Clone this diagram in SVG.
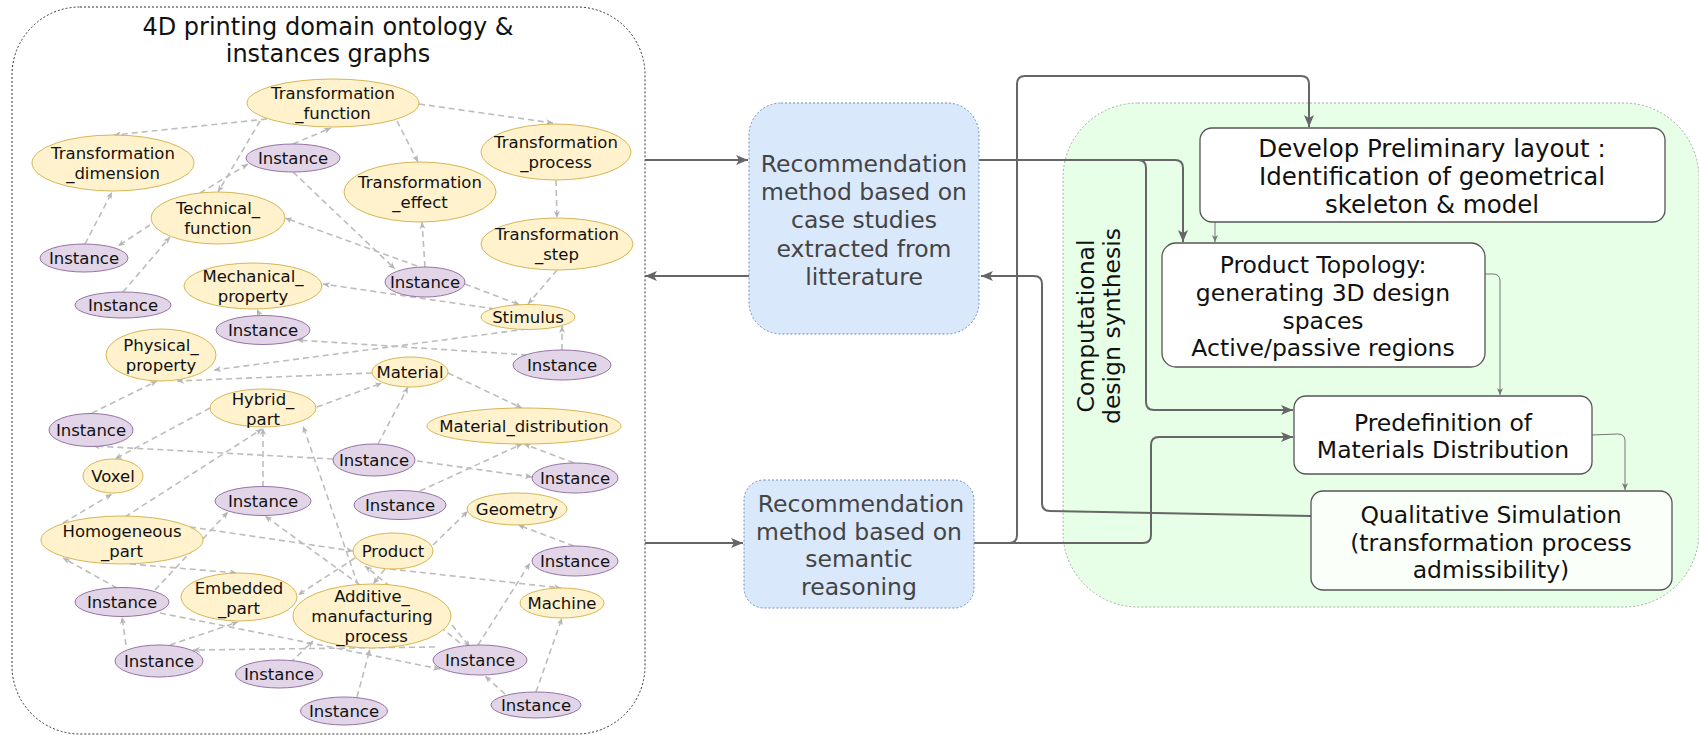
<svg xmlns="http://www.w3.org/2000/svg" width="1699" height="735" viewBox="0 0 1699 735">
<style>
.cont{fill:none;stroke:#333;stroke-width:1;stroke-dasharray:2 2}
.green{fill:#e6ffe6;stroke:#aaa;stroke-width:1;stroke-dasharray:2 2}
.blue{fill:#dae8fc;stroke:#6c8ebf;stroke-width:1;stroke-dasharray:2 2}
.box{fill:#fff;stroke:#555;stroke-width:1.3}
.cls{fill:#fff2cc;stroke:#d6b656;stroke-width:1}
.ins{fill:#e1d5e7;stroke:#9673a6;stroke-width:1}
.e{fill:none;stroke:#bdbdbd;stroke-width:1.6;stroke-dasharray:6 4;marker-end:url(#s)}
.c{fill:none;stroke:#666;stroke-width:2;marker-end:url(#a)}
.t{fill:none;stroke:#777;stroke-width:1;marker-end:url(#m)}
text{font-family:"DejaVu Sans",Verdana,sans-serif;text-anchor:middle}
.nt{font-size:16.5px;fill:#111}
.bt{font-size:23.5px;fill:#444}
.rt{font-size:23.5px;fill:#111}
.dt{font-size:24.5px;fill:#111}
.title{font-size:24px;fill:#111}
</style>
<defs>
<marker id="a" viewBox="0 0 12 10" refX="12" refY="5" markerWidth="12" markerHeight="10" orient="auto" markerUnits="userSpaceOnUse"><path d="M0,0 L12,5 L0,10 L3,5 Z" fill="#666"/></marker>
<marker id="s" viewBox="0 0 7 6" refX="7" refY="3" markerWidth="7" markerHeight="6" orient="auto" markerUnits="userSpaceOnUse"><path d="M0,0 L7,3 L0,6 L2,3 Z" fill="#b5b5b5"/></marker>
<marker id="m" viewBox="0 0 7 6" refX="7" refY="3" markerWidth="7" markerHeight="6" orient="auto" markerUnits="userSpaceOnUse"><path d="M0,0 L7,3 L0,6 L2,3 Z" fill="#777"/></marker>
</defs>

<g id="ontology-container">
<rect class="cont" x="12" y="7" width="633" height="727" rx="68"/>
<text class="title" x="328" y="35">4D printing domain ontology &amp;</text>
<text class="title" x="328" y="62">instances graphs</text>
</g>

<g id="design-synthesis-container">
<rect class="green" x="1063" y="103" width="636" height="504" rx="75"/>
<text class="bt" style="fill:#111" transform="translate(1094,326) rotate(-90)" x="0" y="0">Computational</text>
<text class="bt" style="fill:#111" transform="translate(1120,326) rotate(-90)" x="0" y="0">design synthesis</text>
</g>

<g id="connectors">
<g id="graph-edges">
<path class="e" d="M267,119 L114,135"/>
<path class="e" d="M419,104 L553,123"/>
<path class="e" d="M397,121 L418,162"/>
<path class="e" d="M260,121 L218,192"/>
<path class="e" d="M200,193 L248,164"/>
<path class="e" d="M293,144 L331,128"/>
<path class="e" d="M293,172 L395,269"/>
<path class="e" d="M417,266 L285,218"/>
<path class="e" d="M425,267 L422,222"/>
<path class="e" d="M465,284 L520,305"/>
<path class="e" d="M556,180 L557,218"/>
<path class="e" d="M557,270 L528,304"/>
<path class="e" d="M495,309 L323,284"/>
<path class="e" d="M260,316 L257,309"/>
<path class="e" d="M527,355 L297,340"/>
<path class="e" d="M562,350 L562,326"/>
<path class="e" d="M527,329 L214,370"/>
<path class="e" d="M372,373 L177,381"/>
<path class="e" d="M92,413 L157,381"/>
<path class="e" d="M317,407 L382,383"/>
<path class="e" d="M378,444 L408,387"/>
<path class="e" d="M448,373 L522,408"/>
<path class="e" d="M210,408 L115,459"/>
<path class="e" d="M333,459 L93,446"/>
<path class="e" d="M417,461 L532,477"/>
<path class="e" d="M574,463 L524,444"/>
<path class="e" d="M420,491 L522,444"/>
<path class="e" d="M263,487 L263,428"/>
<path class="e" d="M125,517 L262,429"/>
<path class="e" d="M63,523 L112,494"/>
<path class="e" d="M358,585 L303,426"/>
<path class="e" d="M190,527 L353,551"/>
<path class="e" d="M130,564 L237,573"/>
<path class="e" d="M117,588 L63,558"/>
<path class="e" d="M155,590 L228,512"/>
<path class="e" d="M360,585 L265,516"/>
<path class="e" d="M355,558 L298,595"/>
<path class="e" d="M433,545 L468,511"/>
<path class="e" d="M574,546 L518,525"/>
<path class="e" d="M390,569 L561,588"/>
<path class="e" d="M385,569 L373,584"/>
<path class="e" d="M460,643 L365,566"/>
<path class="e" d="M478,645 L530,563"/>
<path class="e" d="M160,613 L440,669"/>
<path class="e" d="M435,647 L193,650"/>
<path class="e" d="M126,645 L122,617"/>
<path class="e" d="M170,645 L238,622"/>
<path class="e" d="M290,663 L313,641"/>
<path class="e" d="M357,697 L370,649"/>
<path class="e" d="M536,692 L562,618"/>
<path class="e" d="M505,694 L485,676"/>
<path class="e" d="M452,625 L470,647"/>
<path class="e" d="M150,225 L118,246"/>
<path class="e" d="M85,244 L112,192"/>
<path class="e" d="M123,292 L170,237"/>
</g>
<g id="flow-edges">
<path class="c" d="M645,160 L748,160"/>
<path class="c" d="M749,276 L645,276"/>
<path class="c" d="M645,543 L743,543"/>
<path class="c" d="M979,160 L1175,160 Q1183,160 1183,168 L1183,242"/>
<path class="c" d="M1138,160 Q1146,160 1146,168 L1146,402 Q1146,410 1154,410 L1293,410"/>
<path class="c" d="M1311,516 L1050,511 Q1042,511 1042,503 L1042,284 Q1042,276 1034,276 L981,276"/>
<path class="c" d="M974,543 L1009,543 Q1017,543 1017,535 L1017,84 Q1017,76 1025,76 L1301,76 Q1309,76 1309,84 L1309,127"/>
<path class="c" d="M974,543 L1143,543 Q1151,543 1151,535 L1151,445 Q1151,437 1159,437 L1293,437"/>
<path class="t" d="M1215,222 L1215,242"/>
<path class="t" d="M1485,274 L1493,274 Q1500,274 1500,281 L1500,395"/>
<path class="t" d="M1592,435 L1618,434 Q1625,434 1625,441 L1625,490"/>
</g>
</g>

<g id="n-tf"><ellipse class="cls" cx="333" cy="103" rx="86" ry="24"/><text class="nt" x="333" y="99">Transformation</text><text class="nt" x="333" y="119">_function</text></g>
<g id="n-td"><ellipse class="cls" cx="113" cy="163" rx="81" ry="28"/><text class="nt" x="113" y="159">Transformation</text><text class="nt" x="113" y="179">_dimension</text></g>
<g id="n-tp"><ellipse class="cls" cx="556" cy="152" rx="75" ry="28"/><text class="nt" x="556" y="148">Transformation</text><text class="nt" x="556" y="168">_process</text></g>
<g id="n-te"><ellipse class="cls" cx="420" cy="192" rx="76" ry="30"/><text class="nt" x="420" y="188">Transformation</text><text class="nt" x="420" y="208">_effect</text></g>
<g id="n-techf"><ellipse class="cls" cx="218" cy="218" rx="67" ry="26"/><text class="nt" x="218" y="214">Technical_</text><text class="nt" x="218" y="234">function</text></g>
<g id="n-ts"><ellipse class="cls" cx="557" cy="244" rx="76" ry="26"/><text class="nt" x="557" y="240">Transformation</text><text class="nt" x="557" y="260">_step</text></g>
<g id="n-mp"><ellipse class="cls" cx="253" cy="286" rx="69" ry="23"/><text class="nt" x="253" y="282">Mechanical_</text><text class="nt" x="253" y="302">property</text></g>
<g id="n-stim"><ellipse class="cls" cx="528" cy="317" rx="47" ry="12.5"/><text class="nt" x="528" y="323">Stimulus</text></g>
<g id="n-pp"><ellipse class="cls" cx="161" cy="355" rx="55" ry="26"/><text class="nt" x="161" y="351">Physical_</text><text class="nt" x="161" y="371">property</text></g>
<g id="n-mat"><ellipse class="cls" cx="410" cy="372" rx="38" ry="15"/><text class="nt" x="410" y="378">Material</text></g>
<g id="n-hp"><ellipse class="cls" cx="263" cy="408" rx="53" ry="19"/><text class="nt" x="263" y="405">Hybrid_</text><text class="nt" x="263" y="425">part</text></g>
<g id="n-md"><ellipse class="cls" cx="524" cy="426" rx="97" ry="18"/><text class="nt" x="524" y="432">Material_distribution</text></g>
<g id="n-voxel"><ellipse class="cls" cx="113" cy="476" rx="30" ry="17"/><text class="nt" x="113" y="482">Voxel</text></g>
<g id="n-geom"><ellipse class="cls" cx="517" cy="509" rx="50" ry="16"/><text class="nt" x="517" y="515">Geometry</text></g>
<g id="n-homp"><ellipse class="cls" cx="122" cy="540" rx="81" ry="24"/><text class="nt" x="122" y="537">Homogeneous</text><text class="nt" x="122" y="557">_part</text></g>
<g id="n-product"><ellipse class="cls" cx="393" cy="551" rx="40" ry="18"/><text class="nt" x="393" y="557">Product</text></g>
<g id="n-emb"><ellipse class="cls" cx="239" cy="597" rx="58" ry="24"/><text class="nt" x="239" y="594">Embedded</text><text class="nt" x="239" y="614">_part</text></g>
<g id="n-amp"><ellipse class="cls" cx="372" cy="616" rx="79" ry="32"/><text class="nt" x="372" y="602">Additive_</text><text class="nt" x="372" y="622">manufacturing</text><text class="nt" x="372" y="642">_process</text></g>
<g id="n-machine"><ellipse class="cls" cx="562" cy="603" rx="42" ry="15"/><text class="nt" x="562" y="609">Machine</text></g>

<g id="i1"><ellipse class="ins" cx="293" cy="158" rx="47" ry="14"/><text class="nt" x="293" y="164">Instance</text></g>
<g id="i2"><ellipse class="ins" cx="84" cy="258" rx="44" ry="14"/><text class="nt" x="84" y="264">Instance</text></g>
<g id="i3"><ellipse class="ins" cx="425" cy="282" rx="40" ry="15"/><text class="nt" x="425" y="288">Instance</text></g>
<g id="i4"><ellipse class="ins" cx="123" cy="305" rx="48" ry="13"/><text class="nt" x="123" y="311">Instance</text></g>
<g id="i5"><ellipse class="ins" cx="263" cy="330" rx="47" ry="14.5"/><text class="nt" x="263" y="336">Instance</text></g>
<g id="i6"><ellipse class="ins" cx="562" cy="365" rx="49" ry="15"/><text class="nt" x="562" y="371">Instance</text></g>
<g id="i7"><ellipse class="ins" cx="91" cy="430" rx="42" ry="16.5"/><text class="nt" x="91" y="436">Instance</text></g>
<g id="i8"><ellipse class="ins" cx="374" cy="460" rx="41" ry="16"/><text class="nt" x="374" y="466">Instance</text></g>
<g id="i9"><ellipse class="ins" cx="575" cy="478" rx="43" ry="15"/><text class="nt" x="575" y="484">Instance</text></g>
<g id="i10"><ellipse class="ins" cx="263" cy="501" rx="48" ry="14.5"/><text class="nt" x="263" y="507">Instance</text></g>
<g id="i11"><ellipse class="ins" cx="400" cy="505" rx="46" ry="14.5"/><text class="nt" x="400" y="511">Instance</text></g>
<g id="i12"><ellipse class="ins" cx="575" cy="561" rx="43" ry="15"/><text class="nt" x="575" y="567">Instance</text></g>
<g id="i13"><ellipse class="ins" cx="122" cy="602" rx="47" ry="14.5"/><text class="nt" x="122" y="608">Instance</text></g>
<g id="i14"><ellipse class="ins" cx="159" cy="661" rx="44" ry="16"/><text class="nt" x="159" y="667">Instance</text></g>
<g id="i15"><ellipse class="ins" cx="480" cy="660" rx="47" ry="15"/><text class="nt" x="480" y="666">Instance</text></g>
<g id="i16"><ellipse class="ins" cx="279" cy="674" rx="43.5" ry="14"/><text class="nt" x="279" y="680">Instance</text></g>
<g id="i17"><ellipse class="ins" cx="344" cy="711" rx="43.5" ry="14"/><text class="nt" x="344" y="717">Instance</text></g>
<g id="i18"><ellipse class="ins" cx="536" cy="705" rx="45" ry="13"/><text class="nt" x="536" y="711">Instance</text></g>

<g id="rec-literature"><rect class="blue" x="749" y="103" width="230" height="231" rx="32"/>
<text class="bt" x="864" y="171.5">Recommendation</text><text class="bt" x="864" y="200">method based on</text><text class="bt" x="864" y="228">case studies</text><text class="bt" x="864" y="256.5">extracted from</text><text class="bt" x="864" y="284.5">litterature</text></g>
<g id="rec-semantic"><rect class="blue" x="744" y="480" width="230" height="128" rx="20"/>
<text class="bt" x="861" y="512">Recommendation</text><text class="bt" x="859" y="540">method based on</text><text class="bt" x="859" y="567">semantic</text><text class="bt" x="859" y="595">reasoning</text></g>

<g id="develop"><rect class="box" x="1200" y="128" width="465" height="94" rx="12"/>
<text class="dt" x="1432" y="157">Develop Preliminary layout :</text><text class="dt" x="1432" y="185">Identification of geometrical</text><text class="dt" x="1432" y="213">skeleton &amp; model</text></g>
<g id="topology"><rect class="box" x="1162" y="243" width="323" height="124" rx="14"/>
<text class="rt" x="1323" y="273">Product Topology:</text><text class="rt" x="1323" y="301">generating 3D design</text><text class="rt" x="1323" y="329">spaces</text><text class="rt" x="1323" y="356">Active/passive regions</text></g>
<g id="predefinition"><rect class="box" x="1294" y="396" width="298" height="78" rx="12"/>
<text class="rt" x="1443" y="431">Predefinition of</text><text class="rt" x="1443" y="458">Materials Distribution</text></g>
<g id="simulation"><rect class="box" x="1311" y="491" width="361" height="99" rx="12" style="fill:#fafffa"/>
<text class="rt" x="1491" y="523">Qualitative Simulation</text><text class="rt" x="1491" y="551">(transformation process</text><text class="rt" x="1491" y="578">admissibility)</text></g>
</svg>
